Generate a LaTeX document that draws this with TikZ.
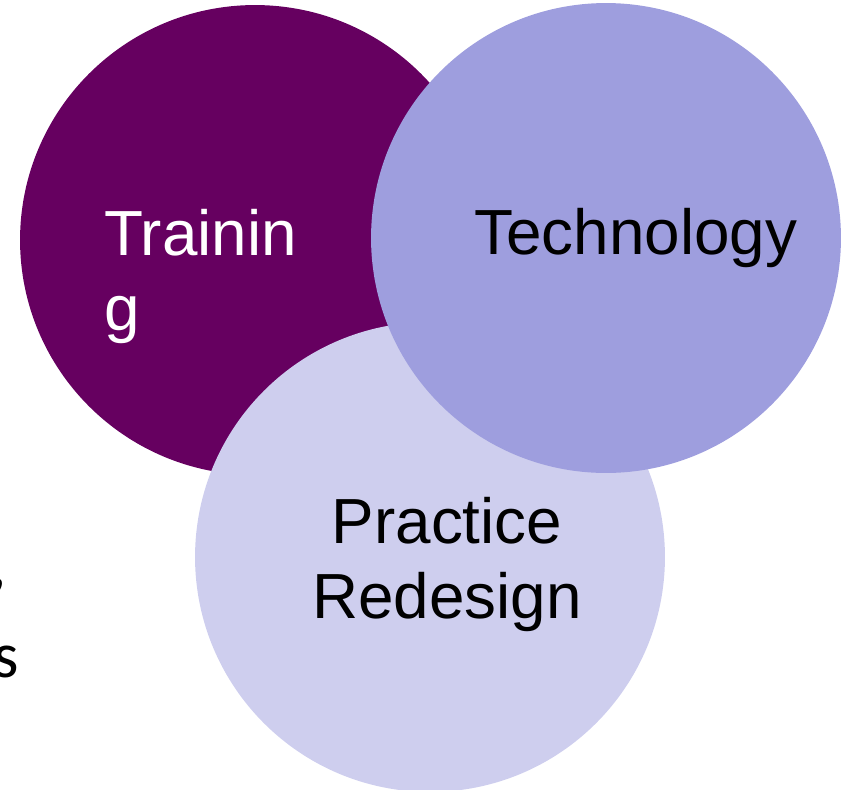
\documentclass[tikz,border=0pt]{standalone}
\usepackage{fontspec}
\setmainfont{Liberation Sans}
\newfontfamily\calibri{Carlito}
\definecolor{trainpurple}{RGB}{102,0,96}
\definecolor{techlilac}{RGB}{158,158,222}
\definecolor{practlilac}{RGB}{206,206,238}
\begin{document}
\begin{tikzpicture}[x=0.02cm,y=-0.02cm]
\useasboundingbox (0,0) rectangle (846,789);
\node[circle, minimum size=9.4cm, fill=trainpurple] (training) at (255,240){};
\node[circle, minimum size=9.4cm, fill=practlilac] (practice) at (430,557){};
\node[circle, minimum size=9.4cm, fill=techlilac] (technology) at (606,238){};
\node[anchor=base west, align=left, inner sep=0, white, font=\fontsize{36.3}{42.5}\selectfont] (trainlbl) at (104,330){Trainin\\g};
\node[anchor=base west, inner sep=0, font=\fontsize{36.3}{42.5}\selectfont] (techlbl) at (474,254){Technology};
\node[anchor=base, align=center, inner sep=0, font=\fontsize{36.3}{42.5}\selectfont] (practlbl) at (447,618){Practice\\Redesign};
\node[anchor=base east, inner sep=0, font=\calibri\fontsize{37}{43}\selectfont] (comma) at (7,586){,};
\node[anchor=base east, inner sep=0, font=\calibri\fontsize{37}{43}\selectfont] (sfrag) at (19.6,677){s};
\end{tikzpicture}
\end{document}
